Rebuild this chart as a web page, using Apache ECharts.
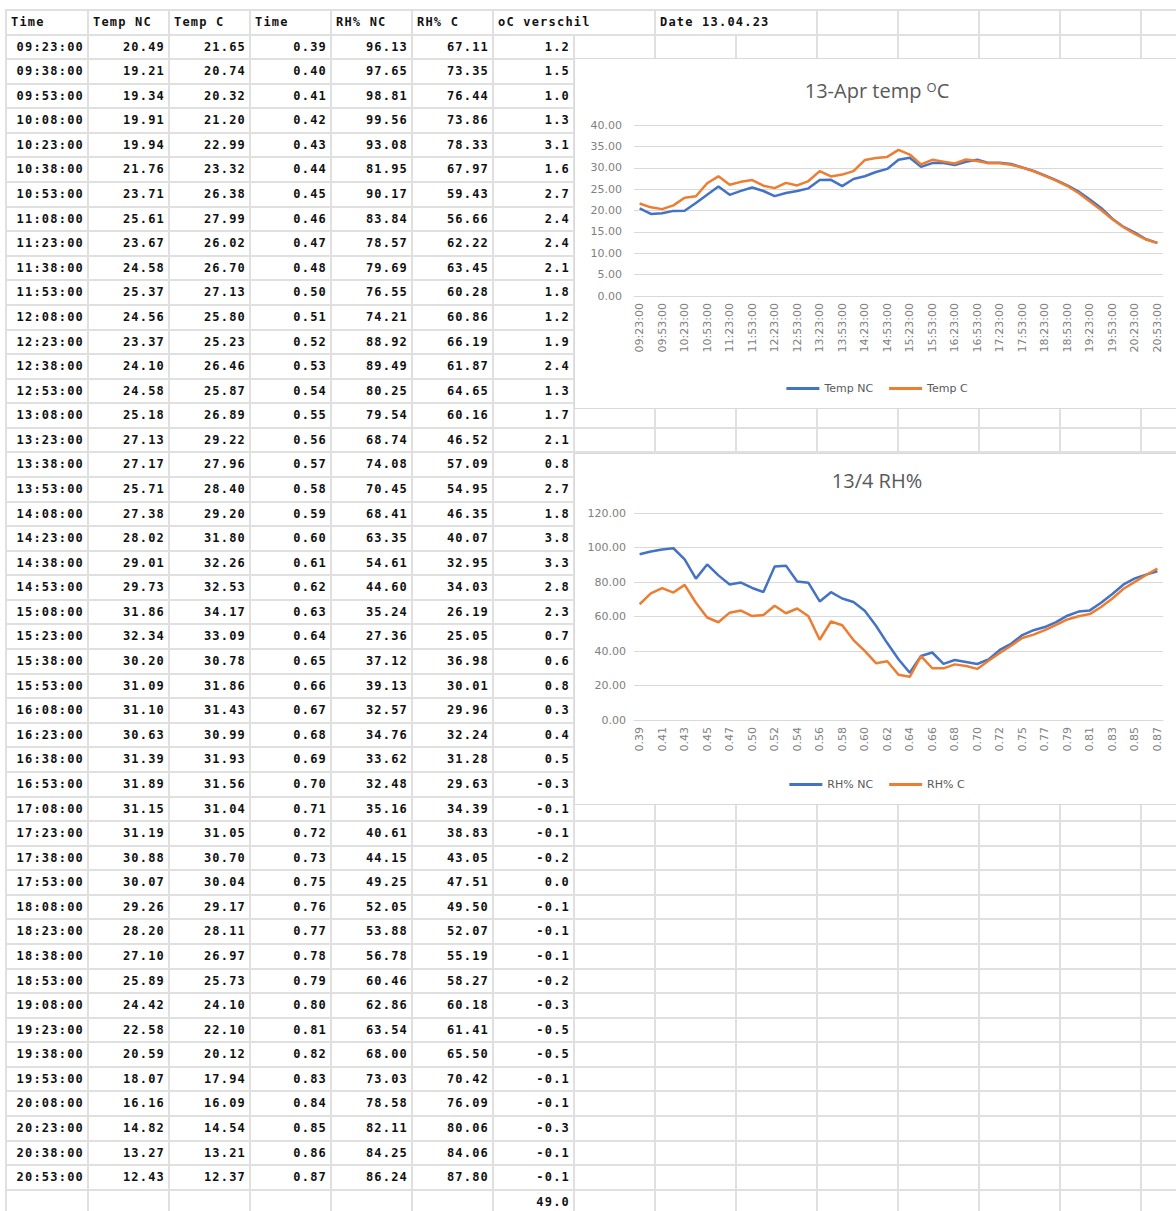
<!DOCTYPE html>
<html>
<head>
<meta charset="utf-8">
<title>13.04.23</title>
<script src="https://cdn.jsdelivr.net/npm/echarts@6/dist/echarts.min.js"></script>
<style>
html, body { margin: 0; padding: 0; background: #fff; overflow: hidden; width: 1176px; height: 1211px; }
#sheet {
    position: absolute; left: 5px; top: 9px;
    display: grid;
    grid-template-columns: 82px repeat(14, 81px);
    grid-auto-rows: 24.59px;
    border-top: 2px solid #e0e0e0; border-left: 2px solid #e0e0e0;
    font: bold 12px "DejaVu Sans Mono", monospace;
    letter-spacing: 1.2px;
    color: #111;
}
#sheet div {
    border-right: 2px solid #e0e0e0; border-bottom: 2px solid #e0e0e0;
    box-sizing: border-box; line-height: 22px;
    text-align: right; padding-right: 3px;
    white-space: nowrap; overflow: hidden;
}
#sheet div.h { text-align: left; padding-left: 4px; padding-right: 0; }
#sheet div.span2 { grid-column: span 2; }
.chart { position: absolute; left: 574px; width: 606px; background: #fff; border: 1px solid #d9d9d9; box-sizing: border-box; }
#c1 { top: 58px; height: 351px; }
#c2 { top: 453px; height: 352px; }
</style>
</head>
<body>
<div id="sheet"></div>
<div id="c1" class="chart"></div>
<div id="c2" class="chart"></div>
<script>
// 13.04.23 metingen
var times = ['09:23:00', '09:38:00', '09:53:00', '10:08:00', '10:23:00', '10:38:00', '10:53:00', '11:08:00',
    '11:23:00', '11:38:00', '11:53:00', '12:08:00', '12:23:00', '12:38:00', '12:53:00', '13:08:00',
    '13:23:00', '13:38:00', '13:53:00', '14:08:00', '14:23:00', '14:38:00', '14:53:00', '15:08:00',
    '15:23:00', '15:38:00', '15:53:00', '16:08:00', '16:23:00', '16:38:00', '16:53:00', '17:08:00',
    '17:23:00', '17:38:00', '17:53:00', '18:08:00', '18:23:00', '18:38:00', '18:53:00', '19:08:00',
    '19:23:00', '19:38:00', '19:53:00', '20:08:00', '20:23:00', '20:38:00', '20:53:00'];
var tempNC = [20.49, 19.21, 19.34, 19.91, 19.94, 21.76, 23.71, 25.61, 23.67, 24.58, 25.37, 24.56,
    23.37, 24.10, 24.58, 25.18, 27.13, 27.17, 25.71, 27.38, 28.02, 29.01, 29.73, 31.86,
    32.34, 30.20, 31.09, 31.10, 30.63, 31.39, 31.89, 31.15, 31.19, 30.88, 30.07, 29.26,
    28.20, 27.10, 25.89, 24.42, 22.58, 20.59, 18.07, 16.16, 14.82, 13.27, 12.43];
var tempC = [21.65, 20.74, 20.32, 21.20, 22.99, 23.32, 26.38, 27.99, 26.02, 26.70, 27.13, 25.80,
    25.23, 26.46, 25.87, 26.89, 29.22, 27.96, 28.40, 29.20, 31.80, 32.26, 32.53, 34.17,
    33.09, 30.78, 31.86, 31.43, 30.99, 31.93, 31.56, 31.04, 31.05, 30.70, 30.04, 29.17,
    28.11, 26.97, 25.73, 24.10, 22.10, 20.12, 17.94, 16.09, 14.54, 13.21, 12.37];
var dayFrac = [0.39, 0.40, 0.41, 0.42, 0.43, 0.44, 0.45, 0.46, 0.47, 0.48, 0.50, 0.51,
    0.52, 0.53, 0.54, 0.55, 0.56, 0.57, 0.58, 0.59, 0.60, 0.61, 0.62, 0.63,
    0.64, 0.65, 0.66, 0.67, 0.68, 0.69, 0.70, 0.71, 0.72, 0.73, 0.75, 0.76,
    0.77, 0.78, 0.79, 0.80, 0.81, 0.82, 0.83, 0.84, 0.85, 0.86, 0.87];
var rhNC = [96.13, 97.65, 98.81, 99.56, 93.08, 81.95, 90.17, 83.84, 78.57, 79.69, 76.55, 74.21,
    88.92, 89.49, 80.25, 79.54, 68.74, 74.08, 70.45, 68.41, 63.35, 54.61, 44.60, 35.24,
    27.36, 37.12, 39.13, 32.57, 34.76, 33.62, 32.48, 35.16, 40.61, 44.15, 49.25, 52.05,
    53.88, 56.78, 60.46, 62.86, 63.54, 68.00, 73.03, 78.58, 82.11, 84.25, 86.24];
var rhC = [67.11, 73.35, 76.44, 73.86, 78.33, 67.97, 59.43, 56.66, 62.22, 63.45, 60.28, 60.86,
    66.19, 61.87, 64.65, 60.16, 46.52, 57.09, 54.95, 46.35, 40.07, 32.95, 34.03, 26.19,
    25.05, 36.98, 30.01, 29.96, 32.24, 31.28, 29.63, 34.39, 38.83, 43.05, 47.51, 49.50,
    52.07, 55.19, 58.27, 60.18, 61.41, 65.50, 70.42, 76.09, 80.06, 84.06, 87.80];
var verschil = [1.2, 1.5, 1.0, 1.3, 3.1, 1.6, 2.7, 2.4, 2.4, 2.1, 1.8, 1.2,
    1.9, 2.4, 1.3, 1.7, 2.1, 0.8, 2.7, 1.8, 3.8, 3.3, 2.8, 2.3,
    0.7, 0.6, 0.8, 0.3, 0.4, 0.5, -0.3, -0.1, -0.1, -0.2, 0.0, -0.1,
    -0.1, -0.1, -0.2, -0.3, -0.5, -0.5, -0.1, -0.1, -0.3, -0.1, -0.1];
var verschilTotaal = 49.0;
var headers = ['Time', 'Temp NC', 'Temp C', 'Time', 'RH% NC', 'RH% C'];
var headerVerschil = 'oC verschil';
var headerDatum = 'Date 13.04.23';

var EXTRA_COLS = 8;

//werkblad opbouwen
function cell(txt, cls) {
    return '<div' + (cls ? ' class="' + cls + '"' : '') + '>' + (txt === undefined ? '' : txt) + '</div>';
}
function buildSheet() {
    var html = '';
    for (var i = 0; i < headers.length; i++) html += cell(headers[i], 'h');
    html += cell(headerVerschil, 'h span2');
    html += cell(headerDatum, 'h span2');
    for (var k = 0; k < 5; k++) html += cell('');
    for (var r = 0; r < times.length; r++) {
        html += cell(times[r]);
        html += cell(tempNC[r].toFixed(2));
        html += cell(tempC[r].toFixed(2));
        html += cell(dayFrac[r].toFixed(2));
        html += cell(rhNC[r].toFixed(2));
        html += cell(rhC[r].toFixed(2));
        html += cell(verschil[r].toFixed(1));
        for (var e = 0; e < EXTRA_COLS; e++) html += cell('');
    }
    for (var c = 0; c < 6; c++) html += cell('');
    html += cell(verschilTotaal.toFixed(1));
    for (var e2 = 0; e2 < EXTRA_COLS; e2++) html += cell('');
    document.getElementById('sheet').innerHTML = html;
}
buildSheet();

var labelFont = 'DejaVu Sans';
var titleFont = 'Open Sans';

//lijngrafiek maken
function EChart_Line(DivID, TitleTxt, TitleTop, Names, xAxisDt, Serie1, Serie2, yMax, yStep, GridCfg, LegendTop, yMargin) {
    var myChart = echarts.init(document.getElementById(DivID), null, { renderer: 'svg' });
    var option = {
        animation: false,
        title: {
            text: TitleTxt,
            left: 'center',
            top: TitleTop,
            textStyle: {
                fontFamily: titleFont, fontSize: 20, fontWeight: 'normal', color: '#595959',
                rich: {
                    sup: { fontFamily: titleFont, fontSize: 13, color: '#595959', verticalAlign: 'top', lineHeight: 13 }
                }
            }
        },
        legend: {
            data: Names,
            top: LegendTop,
            left: 'center',
            icon: 'rect',
            itemWidth: 33,
            itemHeight: 3,
            itemGap: 16,
            textStyle: { fontFamily: labelFont, fontSize: 11, color: '#595959' }
        },
        grid: GridCfg,
        xAxis: {
            type: 'category',
            boundaryGap: true,
            data: xAxisDt,
            axisLine: { show: true, lineStyle: { color: '#d9d9d9' } },
            axisTick: { show: false },
            axisLabel: { interval: 1, rotate: 90, margin: 7, fontFamily: labelFont, fontSize: 11, color: '#808080' }
        },
        yAxis: {
            type: 'value',
            min: 0,
            max: yMax,
            interval: yStep,
            axisLine: { show: false },
            axisTick: { show: false },
            axisLabel: {
                margin: yMargin, fontFamily: labelFont, fontSize: 11, color: '#808080',
                formatter: function (v) { return v.toFixed(2); }
            },
            splitLine: { lineStyle: { color: '#d9d9d9' } }
        },
        series: [
            { name: Names[0], type: 'line', data: Serie1, showSymbol: false, symbol: 'none',
              lineStyle: { width: 2.5, color: '#4472C4' }, itemStyle: { color: '#4472C4' } },
            { name: Names[1], type: 'line', data: Serie2, showSymbol: false, symbol: 'none',
              lineStyle: { width: 2.5, color: '#ED7D31' }, itemStyle: { color: '#ED7D31' } }
        ]
    };
    myChart.setOption(option);
}

EChart_Line('c1', '13-Apr temp {sup|O}C', 16, ['Temp NC', 'Temp C'], times, tempNC, tempC,
    40, 5, { left: 59, right: 16, top: 66, bottom: 112 }, 319, 12);

EChart_Line('c2', '13/4 RH%', 11, ['RH% NC', 'RH% C'],
    dayFrac.map(function (v) { return v.toFixed(2); }), rhNC, rhC,
    120, 20, { left: 59, right: 16, top: 59, bottom: 84 }, 320, 8);
</script>
</body>
</html>
